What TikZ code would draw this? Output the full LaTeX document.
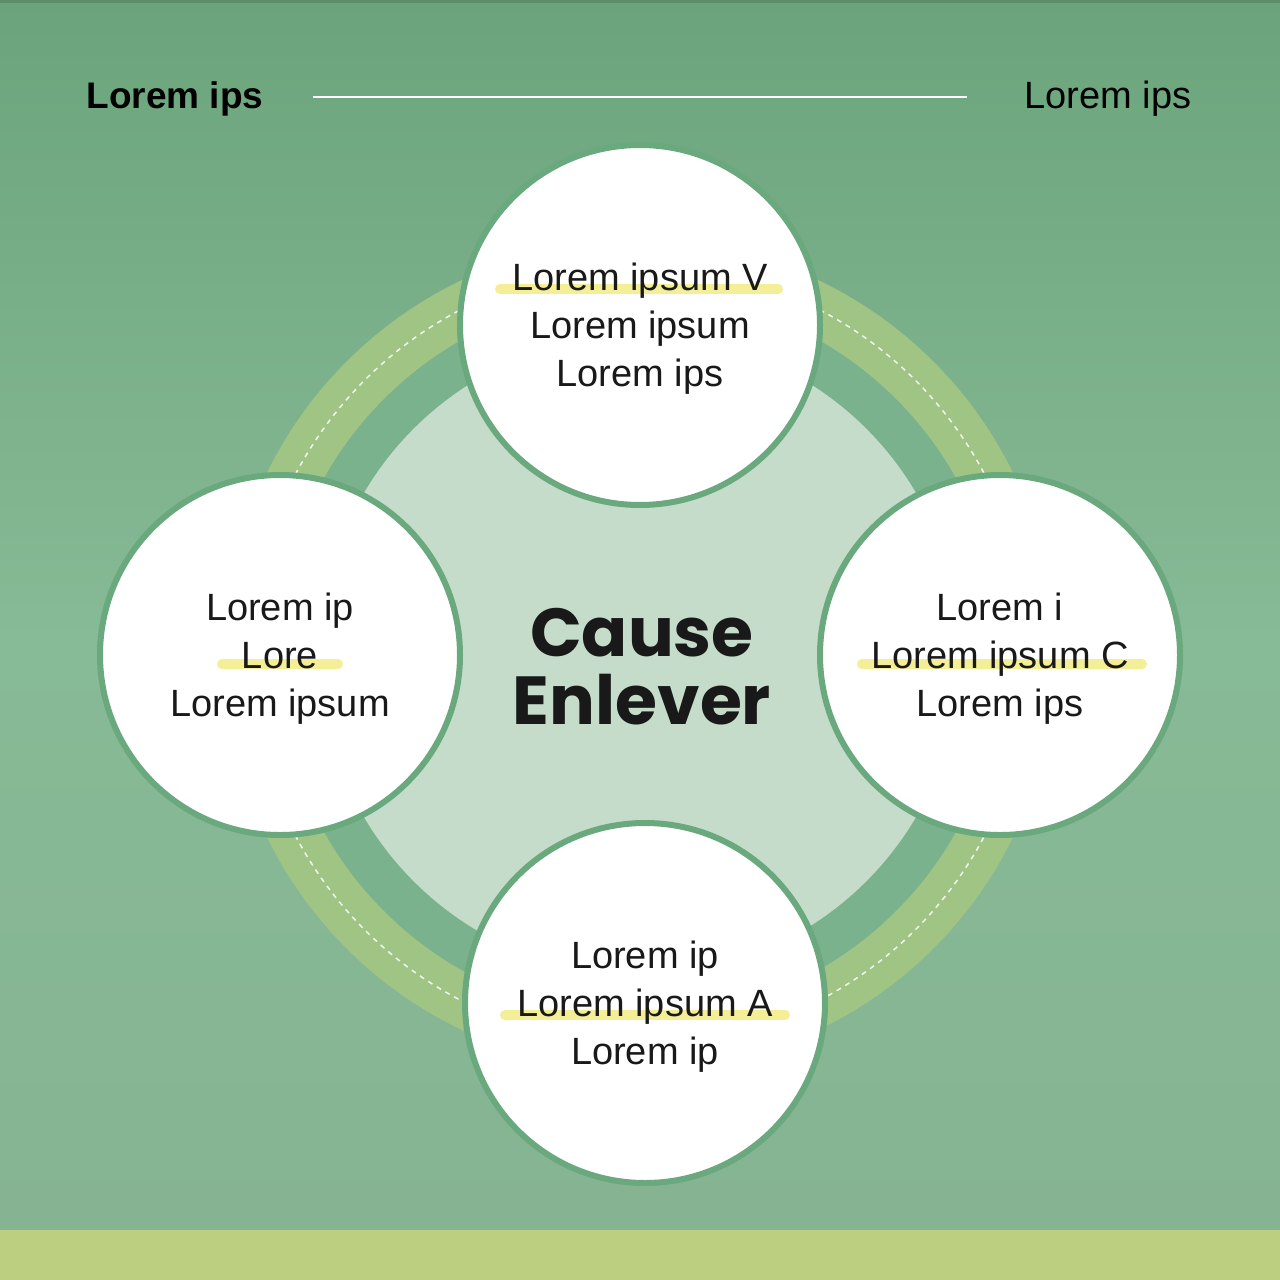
\documentclass[tikz,border=0pt]{standalone}
\usepackage{fontspec}
\setmainfont{Liberation Sans}
\newfontfamily\heavy{Poppins}[BoldFont=* Bold]
\begin{document}
\begin{tikzpicture}[x=1pt,y=-1pt,
  bub/.style={circle,draw=ringgreen,line width=6pt,fill=white,minimum size=360pt,inner sep=0pt},
  lbl/.style={align=center,font=\fontsize{38}{48}\selectfont,text=black!90,yshift=-4pt},
  hl/.style={line width=10pt,draw=hlyellow,line cap=round}]
\definecolor{bgtop}{HTML}{6BA47C}
\definecolor{bgmid}{HTML}{87BA96}
\definecolor{bgbot}{HTML}{86B493}
\definecolor{ringgreen}{HTML}{6AA87D}
\definecolor{darkring}{HTML}{7AB28D}
\definecolor{yring}{HTML}{A0C484}
\definecolor{lightdisc}{HTML}{C4DCC9}
\definecolor{hlyellow}{HTML}{F4EE96}
\definecolor{barc}{HTML}{BCCF80}
\useasboundingbox (0,0) rectangle (1280,1280);
\fill[top color=bgtop,bottom color=bgmid] (0,0) rectangle (1280,640);
\fill[top color=bgmid,bottom color=bgbot] (0,640) rectangle (1280,1230);
\fill[ringgreen!85!black] (0,0) rectangle (1280,3);
\fill[barc] (0,1230) rectangle (1280,1280);
% header
\node[font=\bfseries\fontsize{37}{40}\selectfont,anchor=west] (hl) at (83,99) {Lorem ips};
\node[font=\fontsize{38}{40}\selectfont,anchor=east] (hr) at (1195,99) {Lorem ips};
\coordinate (la) at (313,97); \coordinate (lb) at (967,97);
\draw[white,line width=1.5pt] (la) -- (lb);
% rings
\coordinate (c) at (640,655);
\fill[yring] (c) circle (415);
\fill[darkring] (c) circle (362);
\fill[lightdisc] (c) circle (320);
\draw[white!85!yring,line width=1.5pt,dash pattern=on 5pt off 5pt] (c) circle (389);
% bubbles
\node[bub] (top) at (640,325) {};
\node[bub] (left) at (280,655) {};
\node[bub] (right) at (1000,655) {};
\node[bub] (bot) at (645,1003) {};
% highlights
\draw[hl] (500,289) -- (778,289);
\draw[hl] (222,664) -- (338,664);
\draw[hl] (862,664) -- (1142,664);
\draw[hl] (505,1015) -- (785,1015);
\node[lbl] at (top) {Lorem ipsum V\\Lorem ipsum\\Lorem ips};
\node[lbl] at (left) {Lorem ip\\Lore\\Lorem ipsum};
\node[lbl] at (right) {Lorem i\\Lorem ipsum C\\Lorem ips};
\node[lbl] at (bot) {Lorem ip\\Lorem ipsum A\\Lorem ip};
\node[align=center,font=\heavy\bfseries\fontsize{68}{68}\selectfont,text=black!90] (mid) at (642,667) {Cause\\Enlever};
\end{tikzpicture}
\end{document}
